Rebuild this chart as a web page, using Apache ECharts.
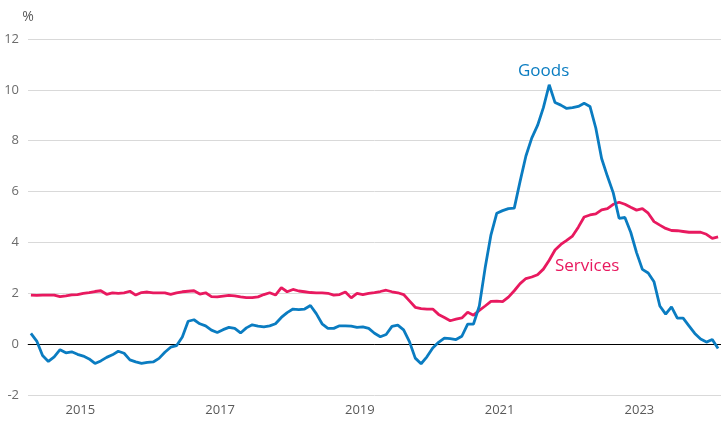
<!DOCTYPE html>
<html>
<head>
<meta charset="utf-8">
<script src="https://cdn.jsdelivr.net/npm/echarts@6/dist/echarts.min.js"></script>
<style>
  html, body { margin: 0; padding: 0; background: #fff; }
  #chart { width: 721px; height: 424px; }
</style>
</head>
<body>
<div id="chart"></div>
<script>
// monthly, Oct 2014 .. Aug 2024
var startYear = 2014
var startMonth = 10
var goods = [
  0.42, 0.12, -0.45, -0.68, -0.5, -0.22, -0.34, -0.3, -0.4, -0.47, -0.58, -0.76,
  -0.66, -0.52, -0.42, -0.28, -0.36, -0.62, -0.7, -0.76, -0.72, -0.7, -0.56, -0.32,
  -0.12, -0.06, 0.28, 0.9, 0.96, 0.8, 0.72, 0.55, 0.46, 0.57, 0.66, 0.62,
  0.44, 0.64, 0.76, 0.71, 0.68, 0.72, 0.8, 1.05, 1.24, 1.38, 1.36, 1.38,
  1.52, 1.2, 0.8, 0.62, 0.62, 0.72, 0.72, 0.71, 0.66, 0.68, 0.62, 0.43,
  0.29, 0.38, 0.7, 0.75, 0.56, 0.1, -0.55, -0.77, -0.5, -0.15, 0.07, 0.24,
  0.22, 0.18, 0.31, 0.79, 0.79, 1.5, 3.0, 4.3, 5.15, 5.25, 5.33, 5.35,
  6.4, 7.4, 8.1, 8.6, 9.3, 10.2, 9.5, 9.4, 9.27, 9.3, 9.35, 9.47,
  9.35, 8.5, 7.3, 6.6, 5.95, 4.95, 4.98, 4.4, 3.6, 2.94, 2.8, 2.45,
  1.5, 1.18, 1.47, 1.02, 1.02, 0.72, 0.42, 0.2, 0.08, 0.18, -0.17
]
var services = [
  1.93, 1.92, 1.93, 1.93, 1.93, 1.87, 1.9, 1.94, 1.95, 2.0, 2.03, 2.07,
  2.1, 1.96, 2.02, 2.0, 2.02, 2.08, 1.93, 2.03, 2.05, 2.02, 2.02, 2.02,
  1.96, 2.02, 2.06, 2.08, 2.1, 1.97, 2.02, 1.87, 1.86, 1.89, 1.92, 1.9,
  1.86, 1.83, 1.83, 1.86, 1.95, 2.02, 1.93, 2.22, 2.06, 2.15, 2.09, 2.06,
  2.03, 2.02, 2.02, 2.0, 1.93, 1.95, 2.05, 1.82, 2.0, 1.95, 2.0, 2.03,
  2.07, 2.12, 2.06, 2.02, 1.95, 1.7, 1.45, 1.4, 1.38, 1.38, 1.17, 1.05,
  0.92, 0.98, 1.03, 1.25, 1.14, 1.33, 1.5, 1.68, 1.69, 1.67, 1.85, 2.1,
  2.38, 2.58, 2.64, 2.73, 2.95, 3.3, 3.7, 3.92, 4.08, 4.25, 4.6, 5.0,
  5.08, 5.12, 5.28, 5.33, 5.5, 5.58, 5.5, 5.38, 5.27, 5.33, 5.15, 4.82,
  4.68, 4.55, 4.47, 4.46, 4.43, 4.4, 4.4, 4.4, 4.32, 4.16, 4.22
]
var yTicks = [-2, 0, 2, 4, 6, 8, 10, 12]

var months = []
for (var i = 0; i < goods.length; i++) {
  var m = startMonth - 1 + i
  var y = startYear + Math.floor(m / 12)
  var mm = (m % 12) + 1
  months.push(y + '-' + (mm < 10 ? '0' + mm : mm))
}

var blue = '#0a7cc1'
var pink = '#e8195f'

var chart = echarts.init(document.getElementById('chart'))
chart.setOption({
  animation: false,
  grid: { left: 28, right: 0, top: 39, bottom: 29 },
  xAxis: {
    type: 'category',
    data: months,
    boundaryGap: true,
    axisLine: { lineStyle: { color: '#7f7f7f', width: 1 } },
    axisTick: {
      length: 5,
      lineStyle: { color: '#7f7f7f' },
      interval: function (idx, val) { return val.slice(5) === '01' }
    },
    axisLabel: {
      color: '#595959',
      fontSize: 13,
      fontFamily: 'Open Sans',
      margin: 9,
      padding: [0, 6, 0, 0],
      interval: function (idx, val) {
        return val.slice(5) === '07' && (+val.slice(0, 4)) % 2 === 1
      },
      formatter: function (val) { return val.slice(0, 4) }
    },
    splitLine: { show: false }
  },
  yAxis: {
    type: 'value',
    min: yTicks[0],
    max: yTicks[yTicks.length - 1],
    interval: 2,
    name: '%',
    nameLocation: 'end',
    nameGap: 15,
    nameTextStyle: { color: '#595959', fontSize: 14, fontFamily: 'Open Sans', align: 'center' },
    axisLine: { show: false },
    axisTick: { show: false },
    axisLabel: { color: '#6b6b6b', fontSize: 13, fontFamily: 'Open Sans', margin: 9 },
    splitLine: { lineStyle: { color: '#d9d9d9', width: 1 } }
  },
  series: [
    {
      name: 'Services',
      type: 'line',
      data: services,
      symbol: 'none',
      lineStyle: { color: pink, width: 2.8 },
      z: 3
    },
    {
      name: 'Goods',
      type: 'line',
      data: goods,
      symbol: 'none',
      lineStyle: { color: blue, width: 2.8 },
      z: 4,
      markLine: {
        silent: true,
        symbol: 'none',
        label: { show: false },
        lineStyle: { color: '#000', width: 1, type: 'solid' },
        data: [{ yAxis: 0 }],
        z: 2
      }
    }
  ],
  graphic: [
    { type: 'text', left: 518, top: 63, style: { text: 'Goods', fill: blue, fontSize: 17, fontFamily: 'Open Sans' } },
    { type: 'text', left: 555, top: 258, style: { text: 'Services', fill: pink, fontSize: 17, fontFamily: 'Open Sans' } }
  ]
})
</script>
</body>
</html>
